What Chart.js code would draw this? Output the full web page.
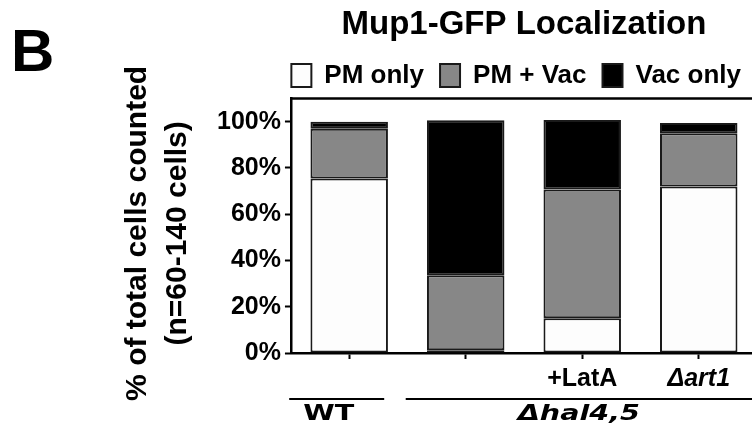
<!DOCTYPE html>
<html>
<head>
<meta charset="utf-8">
<script src="https://cdn.jsdelivr.net/npm/chart.js@4.4.1/dist/chart.umd.min.js"></script>
<style>
  html, body { margin: 0; padding: 0; background: #fff; overflow: hidden; }
  #wrap { width: 752px; height: 431px; overflow: hidden; }
</style>
</head>
<body>
<div id="wrap"><canvas id="chart" width="770" height="431"></canvas></div>
<script>
// Mup1-GFP localization, stacked percentage bars

const categories = ['WT', 'Δhal4,5', 'Δhal4,5 +LatA', 'Δhal4,5 Δart1'];
const tickLabels = ['', '', '+LatA', 'Δart1'];
const pmOnly = [75.5, 1.2, 15, 72];
const pmVac = [21.5, 32.4, 55.7, 23];
const vacOnly = [3, 67, 30, 4.5];
const yTicks = [0, 20, 40, 60, 80, 100];
const yTitle = ['% of total cells counted', '(n=60-140 cells)'];
const groups = [
    { label: 'WT', from: 0, to: 0, italic: false },
    { label: 'Δhal4,5', from: 1, to: 3, italic: true }
];

const FONT = '"Liberation Sans", Arial, Helvetica, sans-serif';
Chart.defaults.font.family = FONT;
Chart.defaults.color = '#000';

// extra text and lines that Chart.js has no slot for
const extras = {
    id: 'extras',
    afterDraw(chart) {
        const { ctx, chartArea, scales: { x, y } } = chart;
        ctx.save();
        ctx.fillStyle = '#000';
        ctx.strokeStyle = '#000';

        // panel letter
        ctx.font = 'bold 60px ' + FONT;
        ctx.textAlign = 'left';
        ctx.textBaseline = 'alphabetic';
        ctx.fillText('B', 11, 71);

        // y title drawn here so it doesn't get squeezed to the axis length
        const yMid = (y.getPixelForValue(0) + y.getPixelForValue(100)) / 2 - 4;
        ctx.font = 'bold 30px ' + FONT;
        ctx.textAlign = 'center';
        ctx.textBaseline = 'middle';
        yTitle.forEach((line, i) => {
            ctx.save();
            ctx.translate(chartArea.left - 153 + i * 40, yMid);
            ctx.rotate(-Math.PI / 2);
            ctx.fillText(line, 0, 0);
            ctx.restore();
        });

        // top frame line
        ctx.lineWidth = 2.5;
        ctx.beginPath();
        ctx.moveTo(chartArea.left, chartArea.top);
        ctx.lineTo(chartArea.right, chartArea.top);
        ctx.stroke();

        // strain groups below the axis (the original lettering is wide, so stretch it a bit)
        const lineY = chartArea.bottom + 46;
        ctx.lineWidth = 2;
        groups.forEach(g => {
            const x1 = x.getPixelForValue(g.from) - 60;
            const x2 = g.to === categories.length - 1 ? chartArea.right : x.getPixelForValue(g.to) + 35;
            ctx.beginPath();
            ctx.moveTo(x1, lineY);
            ctx.lineTo(x2, lineY);
            ctx.stroke();
            ctx.font = (g.italic ? 'italic ' : '') + 'bold 22px "DejaVu Sans", Verdana, sans-serif';
            const cx = g.italic ? (x1 + Math.min(x2, 752)) / 2 : (x1 + x2) / 2 - 8;
            ctx.save();
            ctx.translate(cx, lineY + 15);
            ctx.scale(1.3, 1);
            ctx.fillText(g.label, 0, 0);
            ctx.restore();
        });
        ctx.restore();
    }
};

new Chart(document.getElementById('chart'), {
    type: 'bar',
    data: {
        labels: tickLabels,
        datasets: [
            { label: 'PM only', data: pmOnly, backgroundColor: '#fdfdfd' },
            { label: 'PM + Vac', data: pmVac, backgroundColor: '#878787' },
            { label: 'Vac only', data: vacOnly, backgroundColor: '#000000' }
        ]
    },
    options: {
        responsive: false,
        animation: false,
        layout: { padding: { left: 213, right: 13, top: 0, bottom: 32 } },
        datasets: {
            bar: {
                borderColor: '#1a1a1a',
                borderWidth: 2,
                borderSkipped: false,
                categoryPercentage: 1,
                barPercentage: 0.665
            }
        },
        plugins: {
            title: {
                display: true,
                text: 'Mup1-GFP Localization',
                fullSize: false,
                color: '#000',
                font: { size: 33, weight: 'bold' },
                padding: { top: 5, bottom: 2 }
            },
            legend: {
                align: 'end',
                labels: {
                    boxWidth: 20,
                    boxHeight: 23,
                    padding: 16,
                    color: '#000',
                    font: { size: 26, weight: 'bold' }
                }
            },
            tooltip: { enabled: false }
        },
        scales: {
            x: {
                stacked: true,
                grid: {
                    drawOnChartArea: false,
                    offset: false,
                    tickLength: 6,
                    tickWidth: 2,
                    tickColor: '#000'
                },
                border: { color: '#000', width: 2.5 },
                ticks: {
                    color: '#000',
                    padding: 5,
                    maxRotation: 0,
                    autoSkip: false,
                    font: ctx => ({ size: 25, weight: 'bold', style: ctx.index === 3 ? 'italic' : 'normal' })
                }
            },
            y: {
                stacked: true,
                min: 0,
                max: 110,
                afterBuildTicks: scale => {
                    scale.ticks = yTicks.map(v => ({ value: v }));
                },
                grid: {
                    drawOnChartArea: false,
                    tickLength: 6,
                    tickWidth: 2,
                    tickColor: '#000'
                },
                border: { color: '#000', width: 2.5 },
                ticks: {
                    color: '#000',
                    padding: 4,
                    font: { size: 25, weight: 'bold' },
                    callback: v => v + '%'
                }
            }
        }
    },
    plugins: [extras]
});
</script>
</body>
</html>
